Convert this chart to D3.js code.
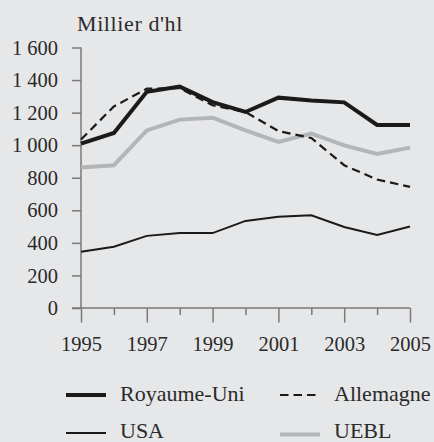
<!DOCTYPE html>
<html><head><meta charset="utf-8">
<script src="https://cdn.jsdelivr.net/npm/d3@7"></script>
</head>
<body style="margin:0;background:#e6e7e9">
<svg id="chart" width="434" height="442" style="display:block;font-family:'Liberation Serif'"></svg>
<script>
const years = [1995,1996,1997,1998,1999,2000,2001,2002,2003,2004,2005];
const royaumeUni = [1010,1075,1328,1360,1265,1204,1292,1275,1263,1124,1124];
const allemagne = [1035,1238,1347,1350,1245,1204,1087,1044,877,789,744];
const usa = [345,376,443,460,460,535,560,570,498,448,501];
const uebl = [863,877,1091,1157,1169,1091,1020,1071,999,946,985];
const yTicks = [0,200,400,600,800,1000,1200,1400,1600];
const xLabelYears = [1995,1997,1999,2001,2003,2005];
const unitLabel = "Millier d'hl";

const FONT = "'Liberation Serif'";
const TXT = "#2a2a2a";

const series = [
  {name:"Royaume-Uni", values:royaumeUni, color:"#1a1a1a", width:4, dash:null},
  {name:"Allemagne", values:allemagne, color:"#1a1a1a", width:2.2, dash:"8.5,5"},
  {name:"USA", values:usa, color:"#1a1a1a", width:2, dash:null},
  {name:"UEBL", values:uebl, color:"#b4b5b7", width:4, dash:null}
];

const svg = d3.select("#chart");
const x = d3.scaleLinear().domain([1995,2005]).range([81,410]);
const y = d3.scaleLinear().domain([0,1600]).range([308,47.5]);
const fmt = v => v >= 1000 ? d3.format(",")(v).replace(",", " ") : String(v);
const axisColor = "#7a7a7a";
const styleNum = sel => sel.style("font-family",FONT).style("font-size","20.5px").attr("fill",TXT);
const styleWord = (sel, ls) => sel.style("font-family",FONT).style("font-size","22px").style("letter-spacing",(ls||0)+"px").attr("fill",TXT);

// Y axis
const yAxis = svg.append("g").attr("transform","translate(81,0)")
  .call(d3.axisLeft(y).tickValues(yTicks).tickSize(9).tickPadding(14).tickFormat(fmt));
yAxis.attr("font-family",null).attr("font-size",null);
yAxis.select(".domain").attr("stroke",axisColor).attr("stroke-width",1.5).attr("d","M0,"+y(1600)+"V"+y(0));
yAxis.selectAll(".tick line").attr("stroke",axisColor).attr("stroke-width",1.5);
styleNum(yAxis.selectAll("text"));

// X axis
const xAxis = svg.append("g").attr("transform","translate(0,308)")
  .call(d3.axisBottom(x).tickValues(years).tickSize(0).tickFormat(d => xLabelYears.includes(d) ? d : ""));
xAxis.attr("font-family",null).attr("font-size",null);
xAxis.select(".domain").attr("stroke",axisColor).attr("stroke-width",1.5).attr("d","M72,0H"+x(2005));
xAxis.selectAll(".tick line").attr("stroke",axisColor).attr("stroke-width",1.5)
  .attr("y2", d => xLabelYears.includes(d) ? 14.5 : 7);
styleNum(xAxis.selectAll("text")).attr("dy",null).attr("y",42.5);

// Unit label
styleWord(svg.append("text").attr("x",77).attr("y",30.5), 0.6).text(unitLabel);

// Lines
const line = d3.line().x((d,i)=>x(years[i])).y(d=>y(d));
const order = [series[3], series[2], series[1], series[0]];
order.forEach(s => {
  svg.append("path").datum(s.values).attr("d",line).attr("fill","none")
    .attr("stroke",s.color).attr("stroke-width",s.width)
    .attr("stroke-dasharray",s.dash).attr("stroke-linejoin","miter");
});

// Legend
const legendPos = [
  {s:series[0], lx:66, tx:120, ly:395, ty:401},
  {s:series[1], lx:280, tx:334, ly:395, ty:401},
  {s:series[2], lx:66, tx:120, ly:433, ty:438},
  {s:series[3], lx:280, tx:334, ly:434.5, ty:438}
];
legendPos.forEach(p => {
  svg.append("line").attr("x1",p.lx).attr("x2",p.lx+40).attr("y1",p.ly).attr("y2",p.ly)
    .attr("stroke",p.s.color).attr("stroke-width",p.s.width).attr("stroke-dasharray",p.s.dash);
  styleWord(svg.append("text").attr("x",p.tx).attr("y",p.ty), 0).text(p.s.name);
});
</script>
</body></html>
